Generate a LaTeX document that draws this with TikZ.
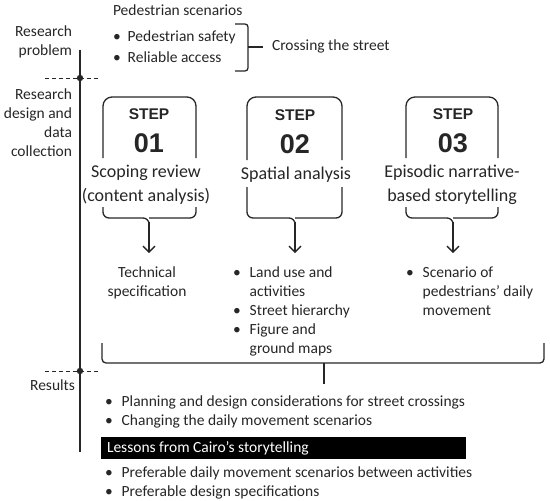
\documentclass[tikz,border=0pt]{standalone}
\usepackage{fontspec}
\setmainfont{Carlito}
\newfontfamily\stepfont{Liberation Sans}
\usetikzlibrary{arrows.meta}
\definecolor{ink}{HTML}{262626}
\tikzset{
  txt/.style={inner sep=0pt, outer sep=0pt, text=ink, font=\fontsize{15.5}{19}\selectfont},
  ttl/.style={inner sep=0pt, outer sep=0pt, text=ink, font=\fontsize{18}{24}\selectfont, align=center},
  steplbl/.style={inner sep=0pt, text=ink, font=\stepfont\bfseries\fontsize{15.5}{18}\selectfont},
  stepnum/.style={inner sep=0pt, text=ink, font=\stepfont\bfseries\fontsize{27}{30}\selectfont},
  ln/.style={draw=ink, line width=1.3pt},
  frame/.style={ln, rounded corners=9pt},
  brace/.style={ln, rounded corners=6pt},
  arr/.style={ln, -{Straight Barb[length=6pt,width=12pt,line width=1.3pt]}},
  dsh/.style={draw=ink, line width=1pt, dash pattern=on 4pt off 3pt},
  bul/.style={txt, align=left}
}
\newcommand{\bl}{\textbullet}
\begin{document}
\begin{tikzpicture}[x=1pt,y=-1pt]
\useasboundingbox (0,0) rectangle (550,501);
% timeline
\coordinate (vtop) at (80,50);
\coordinate (vbot) at (80,452);
\draw[ln] (vtop) -- (vbot);
\coordinate (d1a) at (45,78); \coordinate (d1b) at (98,78);
\coordinate (d2a) at (45,371); \coordinate (d2b) at (98,371);
\draw[dsh] (d1a) -- (d1b);
\draw[dsh] (d2a) -- (d2b);
\fill[ink] (80,78) circle (3.2pt);
\fill[ink] (80,371) circle (3.2pt);
% left labels
\node[txt, align=right, anchor=east] (lp) at (72,41.5) {Research\\problem};
\node[txt, align=right, anchor=east] (ld) at (72,123) {Research\\design and\\data\\collection};
\node[txt, anchor=east] (lr) at (75,385) {Results};
% top
\node[txt, anchor=west] (ps) at (113,10) {Pedestrian scenarios};
\node[txt, anchor=west] (b1) at (113,37) {\bl\hspace{7pt}Pedestrian safety};
\node[txt, anchor=west] (b2) at (113,57) {\bl\hspace{7pt}Reliable access};
\coordinate (tb1) at (235,24); \coordinate (tb2) at (248,24);
\coordinate (tb3) at (248,71); \coordinate (tb4) at (235,71);
\coordinate (tm) at (248,47); \coordinate (tmr) at (263,47);
\draw[ln, rounded corners=3pt] (tb1) -- (tb2) -- (tb3) -- (tb4);
\draw[ln] (tm) -- (tmr);
\node[txt, anchor=west] (cs) at (272,46) {Crossing the street};
% step 1
\draw[frame] (103,158) -- (103,97) -- (196,97) -- (196,158);
\node[steplbl] (s1) at (149,114) {STEP};
\node[stepnum] (n1) at (149,143) {01};
\node[ttl] (t1) at (146,185) {Scoping review\\(content analysis)};
\draw[brace] (103,207) -- (103,218) -- (149,218) -- (149,225);
\draw[brace] (196,207) -- (196,218) -- (149,218);
\coordinate (a1s) at (149,222); \coordinate (a1e) at (149,253);
\draw[arr] (a1s) -- (a1e);
\node[txt, align=center] (o1) at (147,283) {Technical\\specification};
% step 2
\draw[frame] (247,160) -- (247,97) -- (342,97) -- (342,160);
\node[steplbl] (s2) at (295,115) {STEP};
\node[stepnum] (n2) at (295,144) {02};
\node[ttl] (t2) at (296,175) {Spatial analysis};
\draw[brace] (247,187) -- (247,218) -- (295,218) -- (295,225);
\draw[brace] (342,187) -- (342,218) -- (295,218);
\coordinate (a2s) at (295,222); \coordinate (a2e) at (295,253);
\draw[arr] (a2s) -- (a2e);
\node[bul, anchor=north west] (o2) at (233,264) {%
\begin{tabular}{@{}l@{\hspace{9pt}}l@{}}
\bl & Land use and\\ & activities\\ \bl & Street hierarchy\\ \bl & Figure and\\ & ground maps
\end{tabular}};
% step 3
\draw[frame] (406,158) -- (406,97) -- (498,97) -- (498,158);
\node[steplbl] (s3) at (453,114) {STEP};
\node[stepnum] (n3) at (453,143) {03};
\node[ttl] (t3) at (452,185) {Episodic narrative-\\based storytelling};
\draw[brace] (406,207) -- (406,218) -- (453,218) -- (453,225);
\draw[brace] (498,207) -- (498,218) -- (453,218);
\coordinate (a3s) at (453,222); \coordinate (a3e) at (453,253);
\draw[arr] (a3s) -- (a3e);
\node[bul, anchor=north west] (o3) at (406,264) {%
\begin{tabular}{@{}l@{\hspace{9pt}}l@{}}
\bl & Scenario of\\ & pedestrians' daily\\ & movement
\end{tabular}};
% big brace
\draw[ln, rounded corners=4pt] (102,343) -- (102,363) -- (544,363) -- (544,343);
\coordinate (bs) at (324,363); \coordinate (be) at (324,384);
\draw[ln] (bs) -- (be);
% results
\node[bul, anchor=north west] (r1) at (105,393) {%
\begin{tabular}{@{}l@{\hspace{9pt}}l@{}}
\bl & Planning and design considerations for street crossings\\
\bl & Changing the daily movement scenarios
\end{tabular}};
\fill[black] (101,437) rectangle (466,459);
\node[txt, text=white, anchor=west] (les) at (107,448) {Lessons from Cairo’s storytelling};
\node[bul, anchor=north west] (r2) at (105,464) {%
\begin{tabular}{@{}l@{\hspace{9pt}}l@{}}
\bl & Preferable daily movement scenarios between activities\\
\bl & Preferable design specifications
\end{tabular}};
\end{tikzpicture}
\end{document}
